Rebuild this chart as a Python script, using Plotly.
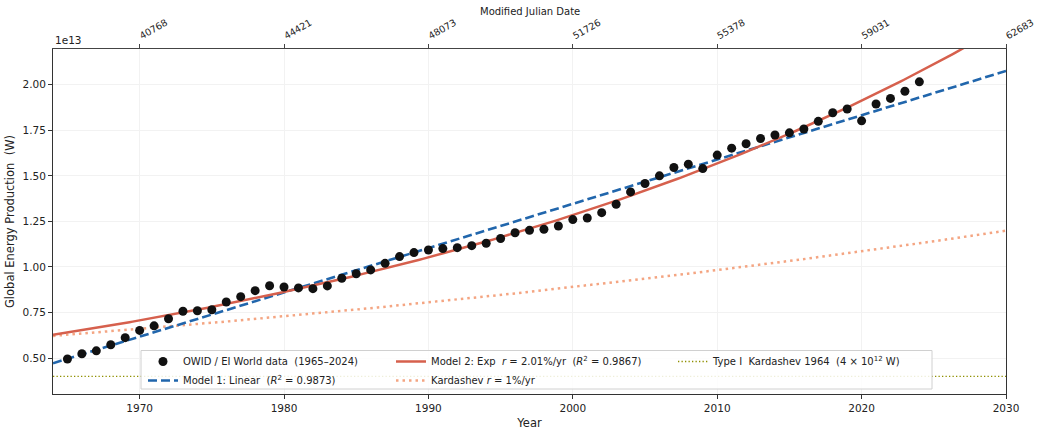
import numpy as np
import plotly.graph_objects as go

# ---------------- data (units of 1e13 W) ----------------
years = list(range(1965, 2025))
energy = [0.495, 0.524, 0.540, 0.573, 0.612, 0.652, 0.677, 0.716, 0.757, 0.760,
          0.765, 0.808, 0.837, 0.870, 0.897, 0.890, 0.885, 0.881, 0.896, 0.938,
          0.963, 0.984, 1.020, 1.057, 1.079, 1.093, 1.101, 1.106, 1.117, 1.130,
          1.156, 1.188, 1.201, 1.207, 1.225, 1.260, 1.269, 1.298, 1.344, 1.412,
          1.458, 1.500, 1.546, 1.564, 1.540, 1.614, 1.652, 1.676, 1.705, 1.724,
          1.736, 1.757, 1.799, 1.846, 1.867, 1.802, 1.894, 1.925, 1.964, 2.016]

# model parameters (base year 1965, units 1e13 W)
lin_p1965 = 0.496
lin_slope = 0.0243
exp_p1965 = 0.640
exp_rate = 0.0201
kard_p1965 = 0.628
kard_rate = 0.01
type1_level = 0.4

year_ticks = [1970, 1980, 1990, 2000, 2010, 2020, 2030]
mjd_labels = ["40768", "44421", "48073", "51726", "55378", "59031", "62683"]
y_ticks = [0.50, 0.75, 1.00, 1.25, 1.50, 1.75, 2.00]

X_RANGE = [1964, 2030]
Y_RANGE = [0.303, 2.196]

t = np.linspace(X_RANGE[0], X_RANGE[1], 300)
lin_y = lin_p1965 + lin_slope * (t - 1965)
exp_y = exp_p1965 * (1 + exp_rate) ** (t - 1965)
kard_y = kard_p1965 * (1 + kard_rate) ** (t - 1965)

BLUE = "#2166ac"
RED = "#d6604d"
SALMON = "#f4a582"
OLIVE = "#8f8f00"
FONT = "DejaVu Sans"
NB = "\u00a0"

fig = go.Figure()

fig.add_trace(go.Scatter(x=[X_RANGE[0], X_RANGE[1]], y=[type1_level, type1_level], mode="lines",
                         line=dict(color=OLIVE, width=1.3, dash="1.3px,2.2px"),
                         name=f"Type I{NB}{NB}Kardashev 1964{NB}{NB}(4 × 10<sup>12</sup> W)",
                         legend="legend3"))
fig.add_trace(go.Scatter(x=t, y=kard_y, mode="lines",
                         line=dict(color=SALMON, width=2.5, dash="2.5px,4px"),
                         name="Kardashev <i>r</i> = 1%/yr", legend="legend2", legendrank=2))
fig.add_trace(go.Scatter(x=t, y=lin_y, mode="lines",
                         line=dict(color=BLUE, width=2.6, dash="9px,4px"),
                         name=f"Model 1: Linear{NB}{NB}(<i>R</i><sup>2</sup> = 0.9873)",
                         legend="legend", legendrank=2))
fig.add_trace(go.Scatter(x=t, y=exp_y, mode="lines",
                         line=dict(color=RED, width=2.5),
                         name=f"Model 2: Exp{NB}{NB}<i>r</i> = 2.01%/yr{NB}{NB}(<i>R</i><sup>2</sup> = 0.9867)",
                         legend="legend2", legendrank=1))
fig.add_trace(go.Scatter(x=years, y=energy, mode="markers",
                         marker=dict(color="#111111", size=9),
                         name=f"OWID / EI World data{NB}{NB}(1965–2024)",
                         legend="legend", legendrank=1))
# dummy trace to carry the top (MJD) axis
fig.add_trace(go.Scatter(x=[X_RANGE[0]], y=[Y_RANGE[0]], xaxis="x2", mode="markers",
                         marker=dict(opacity=0), showlegend=False, hoverinfo="skip"))

L, R, T, B = 53, 35, 49, 39
W, H = 1041, 433
pw = W - L - R
ph = H - T - B

def px_x(px):
    return (px - L) / pw

def px_y(py):
    return (H - B - py) / ph

leg_common = dict(bgcolor="rgba(0,0,0,0)", borderwidth=0, font=dict(family=FONT, size=10, color="#222"),
                  yanchor="top", xanchor="left", orientation="v", tracegroupgap=0,
                  traceorder="normal", itemwidth=30)

fig.update_layout(
    width=W, height=H,
    margin=dict(l=L, r=R, t=T, b=B, autoexpand=False),
    paper_bgcolor="white", plot_bgcolor="white",
    font=dict(family=FONT, size=10, color="#222"),
    legend=dict(x=px_x(143), y=px_y(347), **leg_common),
    legend2=dict(x=px_x(391), y=px_y(347), **leg_common),
    legend3=dict(x=px_x(673), y=px_y(347), **leg_common),
    xaxis=dict(range=X_RANGE, tickvals=year_ticks, ticktext=[str(v) for v in year_ticks],
               showline=True, linecolor="#333", linewidth=1, ticks="outside", ticklen=4,
               tickcolor="#333", showgrid=True, gridcolor="#f2f2f2", gridwidth=0.8,
               zeroline=False, tickfont=dict(size=10.5), automargin=False,
               title=dict(text="Year", font=dict(size=11.5), standoff=6)),
    xaxis2=dict(range=X_RANGE, overlaying="x", side="top", tickvals=year_ticks, ticktext=mjd_labels,
                tickangle=-30, showline=True, linecolor="#444", linewidth=1, ticks="outside",
                ticklen=4, tickcolor="#444", showgrid=False, zeroline=False, tickfont=dict(size=9.5),
                automargin=False),
    yaxis=dict(range=Y_RANGE, tickvals=y_ticks, ticktext=[f"{v:.2f}" for v in y_ticks],
               showline=True, linecolor="#333", linewidth=1, mirror=True, ticks="outside", ticklen=4,
               tickcolor="#333", showgrid=True, gridcolor="#f2f2f2", gridwidth=0.8, zeroline=False,
               tickfont=dict(size=10.5), automargin=False,
               title=dict(text=f"Global Energy Production{NB}{NB}(W)", font=dict(size=11.5), standoff=5)),
    shapes=[dict(type="rect", xref="paper", yref="paper", layer="above",
                 x0=px_x(141), x1=px_x(932), y0=px_y(389), y1=px_y(350.5),
                 line=dict(color="#d0d0d0", width=1), fillcolor="rgba(255,255,255,0.85)")],
    annotations=[
        dict(text="1e13", xref="paper", yref="paper", x=0, y=1, xanchor="left", yanchor="bottom",
             yshift=1, showarrow=False, font=dict(size=10.5)),
        dict(text="Modified Julian Date", xref="paper", yref="paper", x=0.5, y=px_y(11),
             xanchor="center", yanchor="middle", showarrow=False, font=dict(size=10)),
    ],
    showlegend=True,
)

fig.write_html("out.html")
